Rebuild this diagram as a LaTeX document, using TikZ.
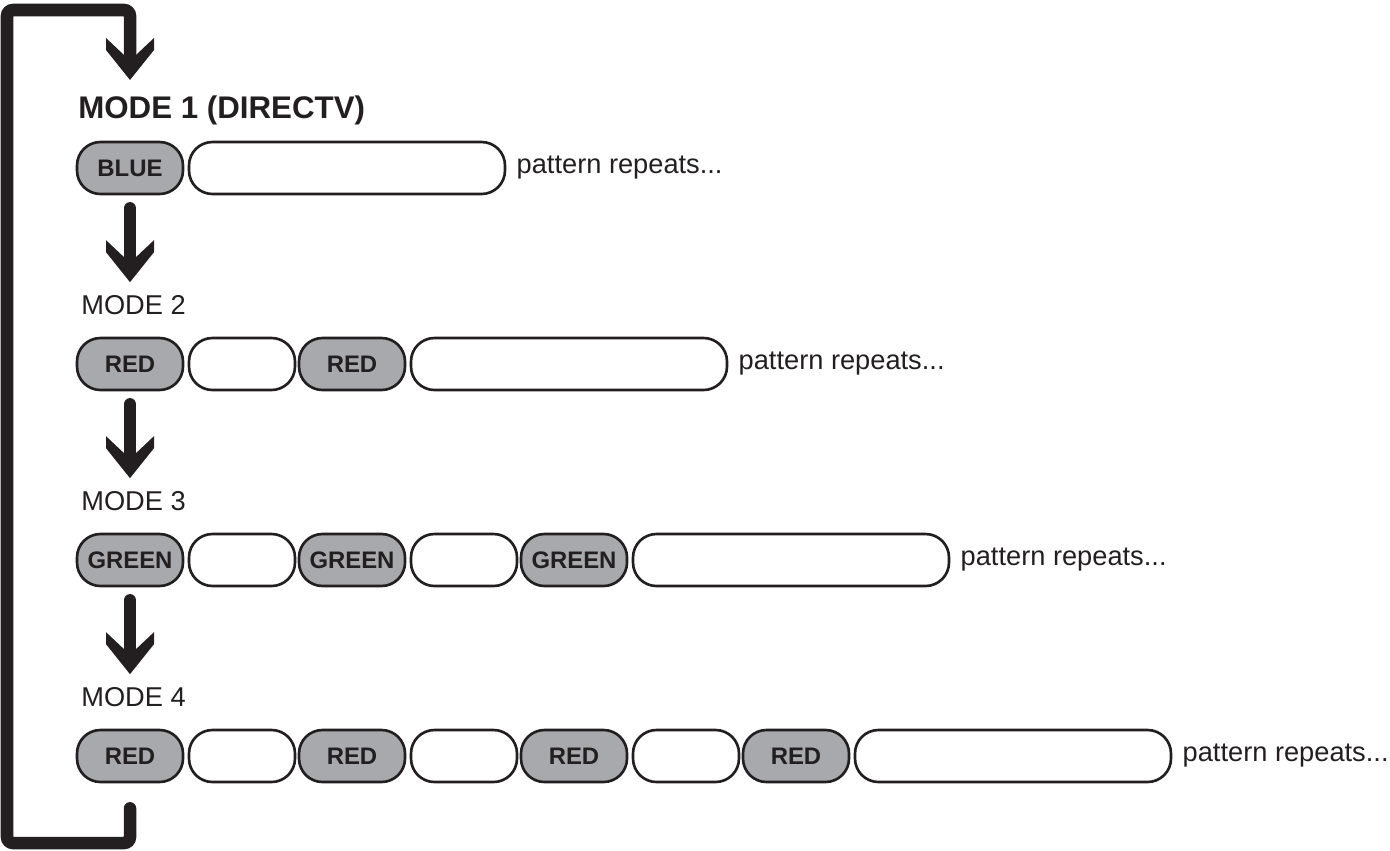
\documentclass[tikz,border=0pt]{standalone}
\usepackage{fontspec}
\setmainfont{Liberation Sans}
\usetikzlibrary{arrows.meta,positioning}
\definecolor{inkblack}{RGB}{35,31,32}
\definecolor{pillgray}{RGB}{167,169,172}
\pgfdeclarearrow{
  name = ModeHead,
  setup code = {
    \pgfarrowssettipend{0pt}
    \pgfarrowssetlineend{-0.5cm}
    \pgfarrowssetvisualbackend{-0.84cm}
    \pgfarrowssetbackend{-0.84cm}
    \pgfarrowshullpoint{0pt}{0pt}
    \pgfarrowshullpoint{-0.84cm}{0.48cm}
    \pgfarrowshullpoint{-0.84cm}{-0.48cm}
  },
  drawing code = {
    \pgfpathmoveto{\pgfpointorigin}
    \pgfpathlineto{\pgfpoint{-0.6cm}{0.48cm}}
    \pgfpathlineto{\pgfpoint{-0.84cm}{0.48cm}}
    \pgfpathlineto{\pgfpoint{-0.5cm}{0.12cm}}
    \pgfpathlineto{\pgfpoint{-0.5cm}{-0.12cm}}
    \pgfpathlineto{\pgfpoint{-0.84cm}{-0.48cm}}
    \pgfpathlineto{\pgfpoint{-0.6cm}{-0.48cm}}
    \pgfpathclose
    \pgfusepathqfill
  }
}

\begin{document}
\begin{tikzpicture}[
    pill/.style={draw=inkblack,line width=1.5pt,rounded corners=0.47cm,minimum height=1.04cm,inner sep=0pt,anchor=center},
    lit/.style={pill,fill=pillgray,minimum width=2.12cm,font=\fontsize{13.6}{15}\selectfont\bfseries,text=inkblack},
    gap/.style={pill,fill=white,minimum width=2.12cm},
    tail/.style={pill,fill=white,minimum width=6.32cm},
    modelabel/.style={anchor=base west,inner sep=0pt,font=\fontsize{15.5}{18}\selectfont,text=inkblack},
    flow/.style={draw=inkblack,line width=0.25cm,line cap=round,-{ModeHead}}]
  \useasboundingbox (0,0) rectangle (27.8,-17);
  % rows of flashes
  \foreach \r/\lab in {1/BLUE,2/RED,3/GREEN,4/RED}{
    \pgfmathsetmacro{\y}{-3.36-3.92*(\r-1)}
    \foreach \c in {1,...,\r}{
      \node[lit] (c\r\c) at ({2.6+4.44*(\c-1)},\y) {\lab};
      \ifnum\c<\r
        \node[gap] (g\r\c) at ({4.84+4.44*(\c-1)},\y) {};
      \fi
    }
    \node[tail] (t\r) at ({6.94+4.44*(\r-1)},\y) {};
    \node[modelabel,anchor=west] (p\r) at ([xshift=0.2cm]t\r.east) {pattern repeats...};
  }
  % mode titles
  \node[modelabel,font=\fontsize{17.8}{20}\selectfont\bfseries] (m1) at (1.56,-2.36) {MODE 1 (DIRECTV)};
  \foreach \r in {2,3,4}{ \node[modelabel] (m\r) at (1.62,{-2.36-3.92*(\r-1)}) {MODE \r}; }
  % arrows between modes
  \draw[flow] ([yshift=-0.26cm]c11.south) -- ([yshift=0.25cm]c11 |- m2.north);
  \draw[flow] ([yshift=-0.26cm]c21.south) -- ([yshift=0.25cm]c11 |- m3.north);
  \draw[flow] ([yshift=-0.26cm]c31.south) -- ([yshift=0.25cm]c11 |- m4.north);
  % loop back to mode 1
  \coordinate (loopbl) at (0.14,-16.86);
  \coordinate (looptl) at (0.14,-0.2);
  \draw[flow,rounded corners=0.12cm] ([yshift=-0.5cm]c41.south) |- (loopbl) |- (looptl -| c11) -- ([yshift=0.3cm]c11 |- m1.north);
\end{tikzpicture}
\end{document}
